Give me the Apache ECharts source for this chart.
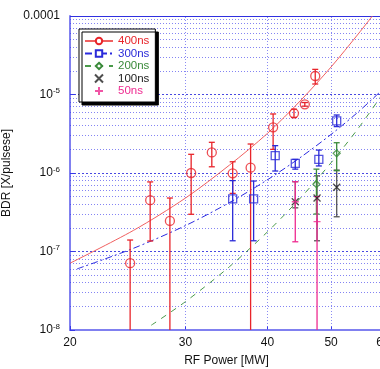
<!DOCTYPE html>
<html><head><meta charset="utf-8">
<script src="https://cdn.jsdelivr.net/npm/echarts@6/dist/echarts.min.js"></script>
<style>html,body{margin:0;padding:0;background:#fff}#c{width:380px;height:369px}</style>
</head><body><div id="c"></div>
<script>
// ---- axis ticks ----
const xTicks = [20, 30, 40, 50, 60];
const xGridLines = [30, 40, 50];
const yDecades = [1e-8, 1e-7, 1e-6, 1e-5, 1e-4];
const minorMultipliers = [2, 3, 4, 5, 6, 7, 8, 9];

// ---- measured points: [RF power MW, BDR, error low, error high] ----
const p400 = [
  [24.7, 7.1e-8, 1e-9, 1.4e-7],
  [26.5, 4.5e-7, 1.36e-7, 7.7e-7],
  [28.4, 2.45e-7, 1e-9, 4.8e-7],
  [30.6, 1.0e-6, 2.98e-7, 1.73e-6],
  [32.9, 1.83e-6, 1.2e-6, 2.46e-6],
  [35.4, 9.9e-7, 5.5e-7, 1.39e-6],
  [37.7, 1.17e-6, 1e-9, 2.34e-6],
  [40.8, 3.82e-6, 2.0e-6, 5.65e-6],
  [43.9, 5.75e-6, 5.1e-6, 6.5e-6],
  [45.6, 7.5e-6, 7.1e-6, 7.9e-6],
  [47.3, 1.72e-5, 1.36e-5, 2.09e-5]
];
const p300 = [
  [35.4, 4.67e-7, 1.37e-7, 8.0e-7],
  [38.1, 4.67e-7, 1.37e-7, 7.9e-7],
  [41.1, 1.66e-6, 1.06e-6, 2.23e-6],
  [44.1, 1.33e-6, 1.12e-6, 1.49e-6],
  [47.9, 1.49e-6, 1.23e-6, 1.96e-6],
  [51.0, 4.6e-6, 3.9e-6, 5.48e-6]
];
const p200 = [
  [47.5, 7.2e-7, 3.0e-7, 1.12e-6],
  [51.0, 1.78e-6, 1.07e-6, 2.43e-6]
];
const p100 = [
  [44.1, 4.3e-7, 3.6e-7, 7.75e-7],
  [47.6, 4.8e-7, 1.37e-7, 9.2e-7],
  [51.0, 6.6e-7, 2.77e-7, 1.09e-6]
];
const p50 = [
  [44.1, 4.3e-7, 1.33e-7, 7.75e-7],
  [47.6, 2.4e-7, 1e-9, 5.0e-7]
];

// ---- fit curves ----
const fitP400 = [20, 25, 30, 35, 40, 45, 50, 55, 57.8];
const fit400 = [7.1e-8, 1.86e-7, 4.8e-7, 1.26e-6, 3.2e-6, 8.5e-6, 2.24e-5, 5.9e-5, 1e-4];
const fitP300 = [20.5, 25, 30, 35, 40, 45, 50, 55, 60];
const fit300 = [6.0e-8, 1.1e-7, 2.14e-7, 4.2e-7, 8.2e-7, 1.6e-6, 3.1e-6, 6.0e-6, 1.17e-5];
const fitP200 = [26.6, 30, 35, 40, 45, 50, 55, 60];
const fit200 = [1.15e-8, 2.3e-8, 6.4e-8, 1.78e-7, 4.9e-7, 1.35e-6, 3.7e-6, 1.03e-5];

const names = ['400ns', '300ns', '200ns', '100ns', '50ns'];
const colors = ['#e8242a', '#2a2ad8', '#3a8a3a', '#222222', '#ee2a90'];

const zip = (a, b) => a.map((v, i) => [v, b[i]]);

const yMinor = [];
yDecades.slice(0, -1).forEach(d => minorMultipliers.forEach(m => yMinor.push(d * m)));

const FONT = '"Liberation Sans", Arial, sans-serif';

function errBar(color) {
  return function (params, api) {
    const cs = params.coordSys;
    const x = api.value(0);
    const top = api.coord([x, api.value(3)]);
    const bot = api.coord([x, api.value(2)]);
    const yMax = cs.y + cs.height;
    const clipped = bot[1] > yMax;
    const by = clipped ? yMax : bot[1];
    const st = { stroke: color, lineWidth: 1.3 };
    const ch = [
      { type: 'line', shape: { x1: top[0], y1: top[1], x2: top[0], y2: by }, style: st },
      { type: 'line', shape: { x1: top[0] - 3, y1: top[1], x2: top[0] + 3, y2: top[1] }, style: st }
    ];
    if (!clipped) ch.push({ type: 'line', shape: { x1: bot[0] - 3, y1: by, x2: bot[0] + 3, y2: by }, style: st });
    return { type: 'group', children: ch };
  };
}
function errSeries(data, color) {
  return {
    type: 'custom', renderItem: errBar(color), data: data,
    encode: { x: 0, y: 1 }, silent: true, z: 3
  };
}
function ptSeries(name, data, symbol, size, color, z) {
  return {
    type: 'scatter', name: name, data: data.map(d => [d[0], d[1]]),
    symbol: symbol, symbolSize: size, z: z || 4,
    itemStyle: { color: 'rgba(0,0,0,0)', borderColor: color, borderWidth: 1.3 }
  };
}

const gridStyle = () => ({ color: 'rgba(50,50,235,0.6)', width: 1, type: [1, 2] });
const xMin = xTicks[0], xMax = xTicks[xTicks.length - 1];

const chart = echarts.init(document.getElementById('c'), null, { renderer: 'canvas' });
chart.setOption({
  animation: false,
  backgroundColor: '#fff',
  grid: { left: 70, top: 16, right: -3, bottom: 39, outerBoundsMode: 'none', containLabel: false },
  legend: {
    orient: 'vertical', left: 79, top: 29,
    backgroundColor: '#fff', borderColor: '#000', borderWidth: 1,
    shadowColor: '#000', shadowOffsetX: 3, shadowOffsetY: 3, shadowBlur: 0,
    padding: [6, 6, 5, 5], itemWidth: 28, itemHeight: 8, itemGap: 0.5,
    textStyle: { fontSize: 11.5, lineHeight: 11, fontFamily: FONT },
    data: names.map((n, i) => ({ name: n, textStyle: { color: colors[i] } }))
  },
  xAxis: {
    type: 'log', min: 20, max: 60, logBase: 10,
    name: 'RF Power [MW]', nameLocation: 'middle', nameGap: 25,
    nameTextStyle: { fontSize: 12, color: '#111', fontFamily: FONT },
    axisLine: { lineStyle: { color: '#8080f0', width: 2 } },
    axisTick: { show: true, inside: true, length: 4, customValues: xTicks, lineStyle: { color: '#3838e8' } },
    axisLabel: { customValues: xTicks, color: '#111', fontSize: 12, margin: 7, fontFamily: FONT },
    splitLine: { show: false },
    minorTick: { show: false }
  },
  yAxis: {
    type: 'log', min: 1e-8, max: 1e-4, logBase: 10,
    name: 'BDR [X/pulsese]', nameLocation: 'middle', nameGap: 48, nameRotate: 90,
    nameTextStyle: { fontSize: 12, color: '#111', fontFamily: FONT },
    axisLine: { lineStyle: { color: '#8080f0', width: 2 } },
    axisTick: { inside: true, length: 5, lineStyle: { color: '#3838e8' } },
    axisLabel: {
      color: '#111', fontSize: 12, margin: 10, fontFamily: FONT,
      formatter: v => {
        if (v > 5e-5) return '0.0001';
        const e = Math.round(Math.log10(v));
        return '10{s|' + e + '}';
      },
      rich: { s: { fontSize: 8, verticalAlign: 'top', padding: [0, 0, 7, 0], fontFamily: FONT, color: '#111' } }
    },
    splitLine: { show: true, lineStyle: { color: 'rgba(40,40,220,0.85)', width: 1, type: [2, 2] } }
  },
  series: [
    {
      type: 'line', name: '400ns', data: zip(fitP400, fit400), smooth: 0.3,
      symbol: 'emptyCircle', showSymbol: false, z: 2,
      lineStyle: { color: '#f06060', width: 1 }, itemStyle: { color: colors[0] },
      markLine: {
        silent: true, symbol: 'none', label: { show: false }, animation: false, z: 1,
        data: yMinor.map(v => [{ coord: [xMin, v], lineStyle: gridStyle() }, { coord: [xMax, v] }])
          .concat(xGridLines.map(v => ({ xAxis: v, lineStyle: { color: 'rgba(110,110,240,0.8)', width: 1, type: [1, 2] } })))
          .concat([[{ coord: [xMin, 1e-4], lineStyle: { color: '#3030e0', width: 1.2, type: 'solid' } }, { coord: [xMax, 1e-4] }]])
      }
    },
    {
      type: 'line', name: '300ns', data: zip(fitP300, fit300), smooth: 0.3,
      symbol: 'emptyRect', showSymbol: false, z: 2,
      lineStyle: { color: '#2a2ae0', width: 1, type: [7, 3, 2, 3] }, itemStyle: { color: colors[1] }
    },
    {
      type: 'line', name: '200ns', data: zip(fitP200, fit200), smooth: 0.3,
      symbol: 'emptyDiamond', showSymbol: false, z: 2,
      lineStyle: { color: '#4a9a4a', width: 1, type: [6, 6] }, itemStyle: { color: colors[2] }
    },
    errSeries(p400, colors[0]),
    errSeries(p300, colors[1]),
    errSeries(p100, '#555555'),
    errSeries(p200, colors[2]),
    errSeries(p50, colors[4]),
    ptSeries('400ns pts', p400, 'circle', 9, colors[0]),
    ptSeries('300ns pts', p300, 'rect', 8, colors[1]),
    ptSeries('200ns pts', p200, 'diamond', 7, colors[2]),
    ptSeries('100ns', p100, 'path://M0,0L10,10M10,0L0,10', 7, colors[3]),
    ptSeries('50ns', p50, 'path://M5,0L5,10M0,5L10,5', 7, colors[4], 5)
  ]
});
</script></body></html>
